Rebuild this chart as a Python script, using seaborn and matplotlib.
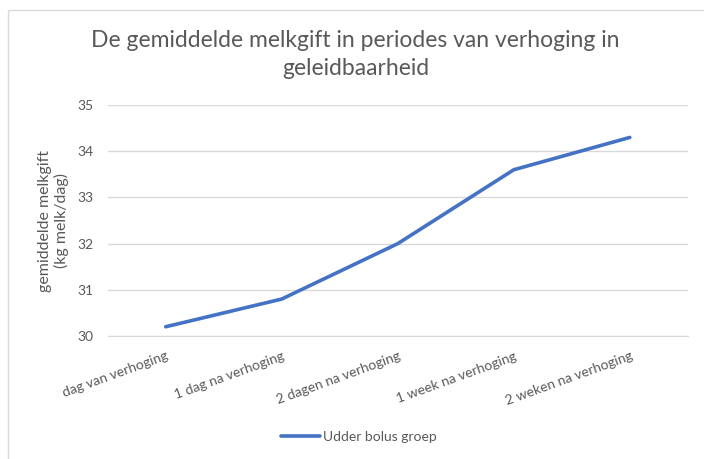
import matplotlib.pyplot as plt
import matplotlib.patches as mpatches
import seaborn as sns
import pandas as pd

categories = [
    "dag van verhoging",
    "1 dag na verhoging",
    "2 dagen na verhoging",
    "1 week na verhoging",
    "2 weken na verhoging",
]
melkgift = [30.2, 30.8, 32.0, 33.6, 34.3]
y_ticks = [30, 31, 32, 33, 34, 35]
series_name = "Udder bolus groep"

grey = "#595959"
line_blue = "#4472C4"

sns.set_style("white")
plt.rcParams["font.family"] = ["Lato", "DejaVu Sans"]

df = pd.DataFrame({
    "periode": categories,
    "melkgift": melkgift,
    "groep": series_name,
})

fig = plt.figure(figsize=(7.04, 4.59), dpi=100)
ax = fig.add_axes([0.153, 0.268, 0.824, 0.503])

sns.lineplot(
    data=df,
    x="periode",
    y="melkgift",
    hue="groep",
    palette=[line_blue],
    linewidth=2.6,
    sort=False,
    ax=ax,
)

ax.set_xlim(-0.5, len(categories) - 0.5)
ax.set_ylim(30, 35)
ax.set_yticks(y_ticks)
ax.set_yticklabels([str(t) for t in y_ticks], color=grey, fontsize=10)
ax.yaxis.grid(True, color="#d9d9d9", linewidth=1)
ax.set_axisbelow(True)

ax.set_xticks(range(len(categories)))
ax.set_xticklabels(
    categories,
    rotation=20,
    ha="right",
    rotation_mode="anchor",
    color=grey,
    fontsize=10,
)
ax.tick_params(axis="both", length=0, pad=10)

for side in ["top", "right", "left"]:
    ax.spines[side].set_visible(False)
ax.spines["bottom"].set_color("#d9d9d9")

ax.set_xlabel("")
ax.set_ylabel(
    "gemiddelde melkgift\n(kg melk/dag)",
    color=grey,
    fontsize=11.5,
    labelpad=6,
)

fig.suptitle(
    "De gemiddelde melkgift in periodes van verhoging in\ngeleidbaarheid",
    x=0.505,
    y=0.935,
    color=grey,
    fontsize=16.5,
    linespacing=1.4,
)

ax.legend_.remove()
handles, labels = ax.get_legend_handles_labels()
fig.legend(
    handles,
    labels,
    loc="center",
    bbox_to_anchor=(0.51, 0.048),
    frameon=False,
    fontsize=10,
    labelcolor=grey,
    handlelength=2.8,
    handletextpad=0.2,
)

fig.patches.append(
    mpatches.Rectangle(
        (0.011, -0.01), 1.0, 0.988,
        transform=fig.transFigure,
        fill=False,
        edgecolor="#d9d9d9",
        linewidth=1,
    )
)

plt.savefig("out.png", dpi=100)
plt.close()
